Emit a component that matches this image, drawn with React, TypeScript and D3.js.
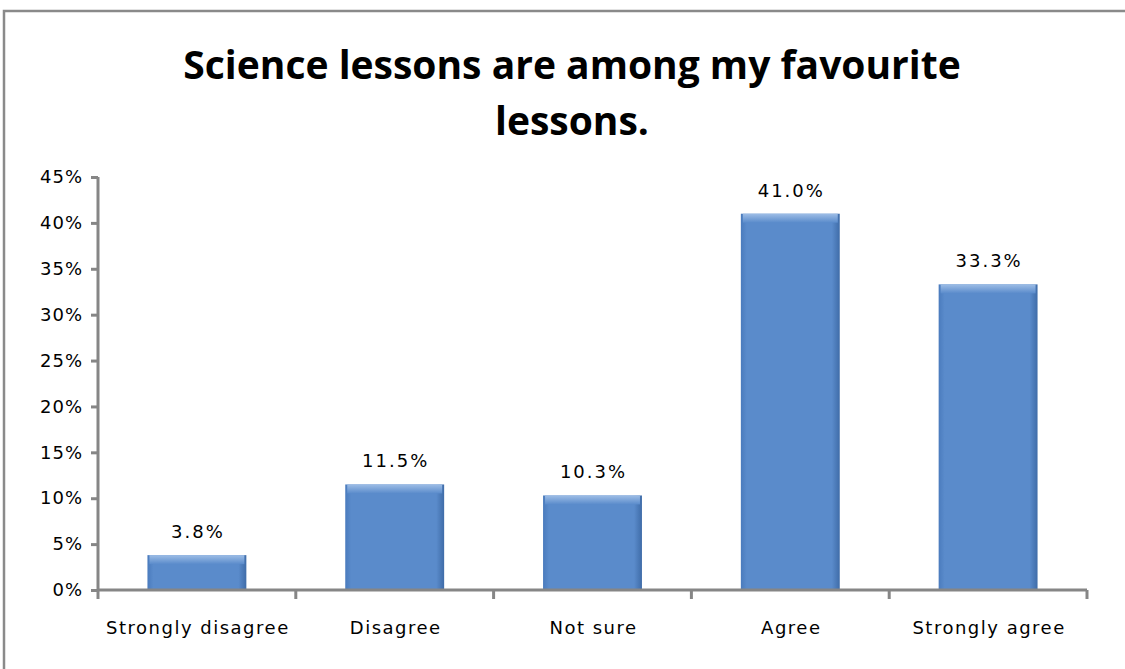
import React, { useRef, useEffect } from 'react';
import * as d3 from 'd3';

const categories = ['Strongly disagree', 'Disagree', 'Not sure', 'Agree', 'Strongly agree'];
const values = [3.8, 11.5, 10.3, 41.0, 33.3];
const yTicks = [0, 5, 10, 15, 20, 25, 30, 35, 40, 45];
const titleLines = ['Science lessons are among my favourite', 'lessons.'];

export default function App() {
  const svgRef = useRef<SVGSVGElement>(null);

  useEffect(() => {
    if (!svgRef.current) return;
    const width = 1125;
    const height = 669;
    const margin = { top: 177, right: 38, bottom: 79, left: 98 };
    const innerWidth = width - margin.left - margin.right;
    const innerHeight = height - margin.top - margin.bottom;
    const font = '"DejaVu Sans", sans-serif';

    const svg = d3.select(svgRef.current);
    svg.selectAll('*').remove();
    svg.attr('width', width).attr('height', height);

    // outer frame
    svg.append('rect')
      .attr('x', 4)
      .attr('y', 11)
      .attr('width', width + 10)
      .attr('height', height + 10)
      .attr('fill', '#fff')
      .attr('stroke', '#8a8a8a')
      .attr('stroke-width', 2.5);

    // title
    svg.append('text')
      .attr('text-anchor', 'middle')
      .attr('font-family', '"Open Sans", sans-serif')
      .attr('font-weight', 'bold')
      .attr('font-size', '39px')
      .attr('fill', '#000')
      .selectAll('tspan')
      .data(titleLines)
      .enter()
      .append('tspan')
      .attr('x', 572)
      .attr('y', (_d, i) => 79 + i * 56)
      .text(d => d);

    const defs = svg.append('defs');
    const grad = defs.append('linearGradient')
      .attr('id', 'bar-grad')
      .attr('x1', '0%').attr('x2', '100%').attr('y1', '0%').attr('y2', '0%');
    grad.append('stop').attr('offset', '0%').attr('stop-color', '#4a7bbd');
    grad.append('stop').attr('offset', '6%').attr('stop-color', '#5a8bcb');
    grad.append('stop').attr('offset', '92%').attr('stop-color', '#5a8bcb');
    grad.append('stop').attr('offset', '100%').attr('stop-color', '#3f6ca8');
    const topGrad = defs.append('linearGradient')
      .attr('id', 'bar-top')
      .attr('x1', '0%').attr('x2', '0%').attr('y1', '0%').attr('y2', '100%');
    topGrad.append('stop').attr('offset', '0%').attr('stop-color', '#9dbde6');
    topGrad.append('stop').attr('offset', '100%').attr('stop-color', '#5a8bcb');

    const g = svg.append('g').attr('transform', `translate(${margin.left},${margin.top})`);

    const x = d3.scaleBand().domain(categories).range([0, innerWidth]).paddingInner(0.5).paddingOuter(0.25);
    const y = d3.scaleLinear().domain([0, 45]).range([innerHeight, 0]);

    // bars
    const bars = g.selectAll('.bar')
      .data(categories)
      .enter()
      .append('g')
      .attr('class', 'bar');

    bars.append('rect')
      .attr('x', d => x(d) || 0)
      .attr('y', (_d, i) => y(values[i]))
      .attr('width', x.bandwidth())
      .attr('height', (_d, i) => innerHeight - y(values[i]))
      .attr('fill', 'url(#bar-grad)');

    bars.append('rect')
      .attr('x', d => (x(d) || 0) + 2)
      .attr('y', (_d, i) => y(values[i]))
      .attr('width', x.bandwidth() - 4)
      .attr('height', (_d, i) => Math.min(9, innerHeight - y(values[i])))
      .attr('fill', 'url(#bar-top)');

    // value labels
    g.selectAll('.value')
      .data(categories)
      .enter()
      .append('text')
      .attr('class', 'value')
      .attr('x', d => (x(d) || 0) + x.bandwidth() / 2 + 1)
      .attr('y', (_d, i) => y(values[i]) - 17)
      .attr('text-anchor', 'middle')
      .attr('font-family', font)
      .attr('font-size', '18px')
      .attr('letter-spacing', '2px')
      .attr('fill', '#000')
      .text((_d, i) => `${values[i].toFixed(1)}%`);

    // y axis
    const yAxis = g.append('g')
      .call(d3.axisLeft(y).tickValues(yTicks).tickSize(7).tickPadding(8).tickFormat(d => `${d}%`));
    yAxis.select('.domain').attr('stroke', '#868686').attr('stroke-width', 3).attr('d', `M0,${innerHeight}V0`);
    yAxis.selectAll('line').attr('stroke', '#868686').attr('stroke-width', 3);
    yAxis.selectAll('text')
      .attr('font-family', font)
      .attr('font-size', '18px')
      .attr('letter-spacing', '1px')
      .attr('fill', '#000');

    // x axis
    const xAxis = g.append('g').attr('transform', `translate(0,${innerHeight})`);
    xAxis.append('line')
      .attr('x1', 0).attr('x2', innerWidth)
      .attr('y1', 0).attr('y2', 0)
      .attr('stroke', '#868686').attr('stroke-width', 3);
    const step = innerWidth / categories.length;
    xAxis.selectAll('.xtick')
      .data(d3.range(categories.length + 1))
      .enter()
      .append('line')
      .attr('x1', d => d * step).attr('x2', d => d * step)
      .attr('y1', 0).attr('y2', 9)
      .attr('stroke', '#868686').attr('stroke-width', 3);
    xAxis.selectAll('.xlabel')
      .data(categories)
      .enter()
      .append('text')
      .attr('x', d => (x(d) || 0) + x.bandwidth() / 2 + 1)
      .attr('y', 44)
      .attr('text-anchor', 'middle')
      .attr('font-family', font)
      .attr('font-size', '18px')
      .attr('letter-spacing', '1.5px')
      .attr('fill', '#000')
      .text(d => d);
  }, []);

  return (
    <div style={{ position: 'absolute', left: 0, top: 0 }}>
      <svg ref={svgRef} style={{ display: 'block' }} />
    </div>
  );
}
